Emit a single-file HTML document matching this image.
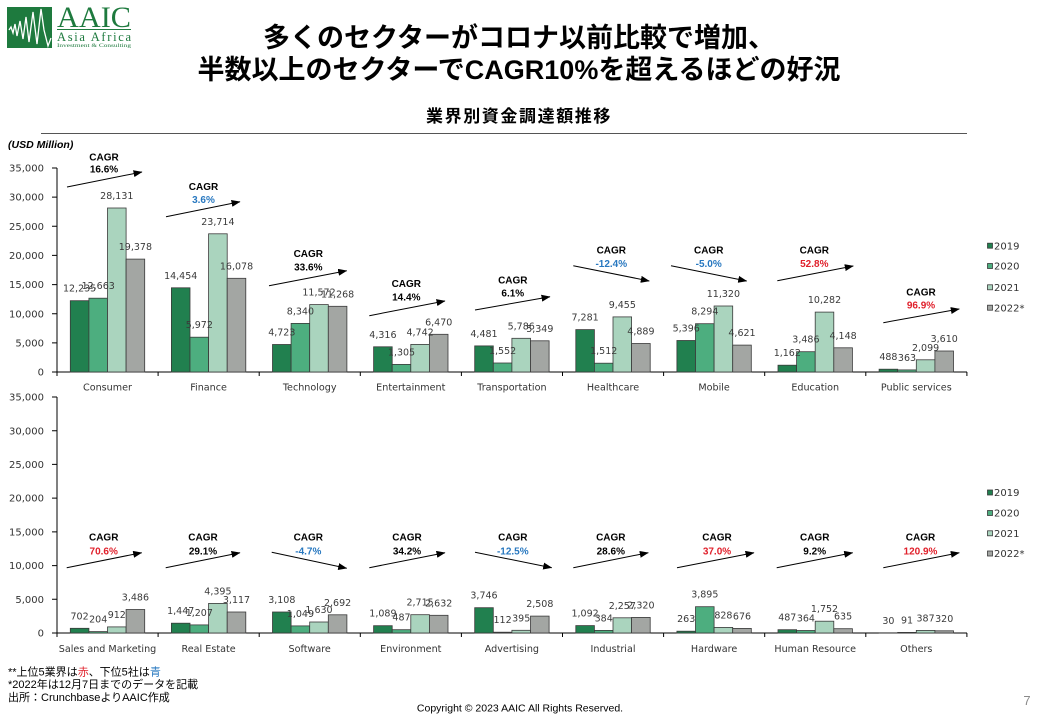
<!DOCTYPE html>
<html><head><meta charset="utf-8"><style>
html,body{margin:0;padding:0;background:#fff;}
svg{display:block;}
.tk{font-family:"DejaVu Sans",sans-serif;font-size:10px;fill:#333;text-anchor:end;}
.cat{font-family:"DejaVu Sans",sans-serif;font-size:9.6px;fill:#333;text-anchor:middle;}
.dl{font-family:"DejaVu Sans",sans-serif;font-size:9.5px;fill:#3a3a3a;text-anchor:middle;}
.lg{font-family:"DejaVu Sans",sans-serif;font-size:10px;fill:#333;}
.cg{font-family:"Liberation Sans",sans-serif;font-weight:bold;font-size:10px;text-anchor:middle;fill:#000;}
.r{fill:#e0202b;} .b{fill:#2878c0;}
.a{fill:#21804f;stroke:#3a3a3a;stroke-width:0.8;}
.c{fill:#4dae7f;stroke:#3a3a3a;stroke-width:0.8;}
.d{fill:#aad4be;stroke:#3a3a3a;stroke-width:0.8;}
.e{fill:#a3a6a3;stroke:#3a3a3a;stroke-width:0.8;}
.ar{stroke:#000;stroke-width:1;fill:none;}
.ax{stroke:#000;stroke-width:1;fill:none;}
.jp{font-family:"Liberation Sans","Noto Sans CJK JP",sans-serif;}
</style></head><body>
<svg width="1040" height="720" viewBox="0 0 1040 720" xmlns="http://www.w3.org/2000/svg">
<defs><marker id="ah" markerWidth="9" markerHeight="7" refX="8.5" refY="3.5" orient="auto" markerUnits="userSpaceOnUse"><path d="M0,0 L9,3.5 L0,7 z" fill="#000"/></marker></defs>

<!-- Logo -->
<rect x="7" y="7" width="45" height="41" fill="#1e7a3e"/>
<polyline points="9,30 11,27 13,33 15,24 17,36 20,21 23,39 26,17 29,42 33,12 37,44 41,9 44,30 48,46 51,38" fill="none" stroke="#fff" stroke-width="1.3"/>
<text x="57" y="27" font-family="Liberation Serif,serif" font-size="30" fill="#1e7a3e" textLength="74" lengthAdjust="spacingAndGlyphs">AAIC</text>
<line x1="57" y1="29.5" x2="131" y2="29.5" stroke="#1e7a3e" stroke-width="1"/>
<text x="57" y="41" font-family="Liberation Serif,serif" font-size="12.5" fill="#1e7a3e" textLength="74" lengthAdjust="spacing">Asia Africa</text>
<text x="57" y="47" font-family="Liberation Serif,serif" font-size="5.5" fill="#1e7a3e" textLength="74" lengthAdjust="spacingAndGlyphs">Investment &amp; Consulting</text>

<!-- Titles -->
<text x="519" y="47" class="jp" font-size="27" font-weight="bold" text-anchor="middle" fill="#000">多くのセクターがコロナ以前比較で増加、</text>
<text x="519" y="79" class="jp" font-size="27" font-weight="bold" text-anchor="middle" fill="#000">半数以上のセクターでCAGR10%を超えるほどの好況</text>
<text x="519" y="122" class="jp" font-size="17" font-weight="bold" text-anchor="middle" letter-spacing="1.6" fill="#000">業界別資金調達額推移</text>
<line x1="41" y1="133.5" x2="967" y2="133.5" stroke="#555" stroke-width="1"/>
<text x="8" y="148" font-family="Liberation Sans,sans-serif" font-size="10.5" font-weight="bold" font-style="italic" fill="#000">(USD Million)</text>

<!-- ===== TOP CHART axes ===== -->
<path class="ax" d="M57,168 V372 H967"/>
<path class="ax" d="M52,372H57M52,342.9H57M52,313.7H57M52,284.6H57M52,255.4H57M52,226.3H57M52,197.1H57M52,168H57"/>
<path class="ax" d="M57,372V376M158.1,372V376M259.2,372V376M360.3,372V376M461.4,372V376M562.5,372V376M663.6,372V376M764.7,372V376M865.8,372V376M966.9,372V376"/>
<text class="tk" x="44" y="375.6">0</text>
<text class="tk" x="44" y="346.5">5,000</text>
<text class="tk" x="44" y="317.3">10,000</text>
<text class="tk" x="44" y="288.2">15,000</text>
<text class="tk" x="44" y="259">20,000</text>
<text class="tk" x="44" y="229.9">25,000</text>
<text class="tk" x="44" y="200.7">30,000</text>
<text class="tk" x="44" y="171.6">35,000</text>

<!-- top bars -->
<rect class="a" x="70.3" y="300.7" width="18.6" height="71.3"/><rect class="c" x="88.9" y="298.2" width="18.6" height="73.8"/><rect class="d" x="107.5" y="208" width="18.6" height="164"/><rect class="e" x="126.1" y="259.1" width="18.6" height="112.9"/>
<rect class="a" x="171.4" y="287.8" width="18.6" height="84.2"/><rect class="c" x="190" y="337.2" width="18.6" height="34.8"/><rect class="d" x="208.6" y="233.8" width="18.6" height="138.2"/><rect class="e" x="227.2" y="278.3" width="18.6" height="93.7"/>
<rect class="a" x="272.5" y="344.5" width="18.6" height="27.5"/><rect class="c" x="291.1" y="323.4" width="18.6" height="48.6"/><rect class="d" x="309.7" y="304.6" width="18.6" height="67.4"/><rect class="e" x="328.3" y="306.3" width="18.6" height="65.7"/>
<rect class="a" x="373.6" y="346.8" width="18.6" height="25.2"/><rect class="c" x="392.2" y="364.4" width="18.6" height="7.6"/><rect class="d" x="410.8" y="344.4" width="18.6" height="27.6"/><rect class="e" x="429.4" y="334.3" width="18.6" height="37.7"/>
<rect class="a" x="474.7" y="345.9" width="18.6" height="26.1"/><rect class="c" x="493.3" y="363" width="18.6" height="9"/><rect class="d" x="511.9" y="338.3" width="18.6" height="33.7"/><rect class="e" x="530.5" y="340.8" width="18.6" height="31.2"/>
<rect class="a" x="575.8" y="329.6" width="18.6" height="42.4"/><rect class="c" x="594.4" y="363.2" width="18.6" height="8.8"/><rect class="d" x="613" y="316.9" width="18.6" height="55.1"/><rect class="e" x="631.6" y="343.5" width="18.6" height="28.5"/>
<rect class="a" x="676.9" y="340.5" width="18.6" height="31.5"/><rect class="c" x="695.5" y="323.7" width="18.6" height="48.3"/><rect class="d" x="714.1" y="306" width="18.6" height="66"/><rect class="e" x="732.7" y="345.1" width="18.6" height="26.9"/>
<rect class="a" x="778" y="365.2" width="18.6" height="6.8"/><rect class="c" x="796.6" y="351.7" width="18.6" height="20.3"/><rect class="d" x="815.2" y="312.1" width="18.6" height="59.9"/><rect class="e" x="833.8" y="347.8" width="18.6" height="24.2"/>
<rect class="a" x="879.1" y="369.2" width="18.6" height="2.8"/><rect class="c" x="897.7" y="369.9" width="18.6" height="2.1"/><rect class="d" x="916.3" y="359.8" width="18.6" height="12.2"/><rect class="e" x="934.9" y="351" width="18.6" height="21"/>

<!-- top data labels -->
<text class="dl" x="79.6" y="291.7">12,235</text><text class="dl" x="98.2" y="289.2">12,663</text><text class="dl" x="116.8" y="199">28,131</text><text class="dl" x="135.4" y="250.1">19,378</text>
<text class="dl" x="180.7" y="278.8">14,454</text><text class="dl" x="199.3" y="328.2">5,972</text><text class="dl" x="217.9" y="224.8">23,714</text><text class="dl" x="236.5" y="269.3">16,078</text>
<text class="dl" x="281.8" y="335.5">4,723</text><text class="dl" x="300.4" y="314.4">8,340</text><text class="dl" x="319" y="295.6">11,572</text><text class="dl" x="337.6" y="297.3">11,268</text>
<text class="dl" x="382.9" y="337.8">4,316</text><text class="dl" x="401.5" y="355.4">1,305</text><text class="dl" x="420.1" y="335.4">4,742</text><text class="dl" x="438.7" y="325.3">6,470</text>
<text class="dl" x="484" y="336.9">4,481</text><text class="dl" x="502.6" y="354">1,552</text><text class="dl" x="521.2" y="329.3">5,786</text><text class="dl" x="539.8" y="331.8">5,349</text>
<text class="dl" x="585.1" y="320.6">7,281</text><text class="dl" x="603.7" y="354.2">1,512</text><text class="dl" x="622.3" y="307.9">9,455</text><text class="dl" x="640.9" y="334.5">4,889</text>
<text class="dl" x="686.2" y="331.5">5,396</text><text class="dl" x="704.8" y="314.7">8,294</text><text class="dl" x="723.4" y="297">11,320</text><text class="dl" x="742" y="336.1">4,621</text>
<text class="dl" x="787.3" y="356.2">1,162</text><text class="dl" x="805.9" y="342.7">3,486</text><text class="dl" x="824.5" y="303.1">10,282</text><text class="dl" x="843.1" y="338.8">4,148</text>
<text class="dl" x="888.4" y="360.2">488</text><text class="dl" x="907" y="360.9">363</text><text class="dl" x="925.6" y="350.8">2,099</text><text class="dl" x="944.2" y="342">3,610</text>

<!-- top categories -->
<text class="cat" x="107.5" y="390.3">Consumer</text>
<text class="cat" x="208.6" y="390.3">Finance</text>
<text class="cat" x="309.7" y="390.3">Technology</text>
<text class="cat" x="410.8" y="390.3">Entertainment</text>
<text class="cat" x="511.9" y="390.3">Transportation</text>
<text class="cat" x="613" y="390.3">Healthcare</text>
<text class="cat" x="714.1" y="390.3">Mobile</text>
<text class="cat" x="815.2" y="390.3">Education</text>
<text class="cat" x="916.3" y="390.3">Public services</text>

<!-- top CAGR -->
<text class="cg" x="104" y="160.6">CAGR</text><text class="cg" x="104" y="172.6">16.6%</text>
<line class="ar" x1="67" y1="187" x2="142" y2="172" marker-end="url(#ah)"/>
<text class="cg" x="203.5" y="190.1">CAGR</text><text class="cg b" x="203.5" y="202.9">3.6%</text>
<line class="ar" x1="166" y1="216.7" x2="240" y2="201.7" marker-end="url(#ah)"/>
<text class="cg" x="308.3" y="256.9">CAGR</text><text class="cg" x="308.3" y="270.3">33.6%</text>
<line class="ar" x1="269" y1="285.7" x2="346.7" y2="270.7" marker-end="url(#ah)"/>
<text class="cg" x="406.3" y="286.9">CAGR</text><text class="cg" x="406.3" y="300.6">14.4%</text>
<line class="ar" x1="369.3" y1="315.7" x2="445" y2="301" marker-end="url(#ah)"/>
<text class="cg" x="512.8" y="283.6">CAGR</text><text class="cg" x="512.8" y="296.3">6.1%</text>
<line class="ar" x1="475" y1="310" x2="550" y2="296.7" marker-end="url(#ah)"/>
<text class="cg" x="611.3" y="253.6">CAGR</text><text class="cg b" x="611.3" y="266.9">-12.4%</text>
<line class="ar" x1="573.3" y1="265.7" x2="649.3" y2="281" marker-end="url(#ah)"/>
<text class="cg" x="708.7" y="253.6">CAGR</text><text class="cg b" x="708.7" y="266.9">-5.0%</text>
<line class="ar" x1="671" y1="265.7" x2="746.7" y2="281" marker-end="url(#ah)"/>
<text class="cg" x="814.3" y="253.6">CAGR</text><text class="cg r" x="814.3" y="266.9">52.8%</text>
<line class="ar" x1="777.3" y1="280.7" x2="853.3" y2="266" marker-end="url(#ah)"/>
<text class="cg" x="921" y="295.3">CAGR</text><text class="cg r" x="921" y="308.6">96.9%</text>
<line class="ar" x1="883.3" y1="322.7" x2="959.3" y2="309" marker-end="url(#ah)"/>

<!-- top legend -->
<rect class="a" x="987.5" y="243.2" width="5" height="5"/><text class="lg" x="994" y="249.3">2019</text>
<rect class="c" x="987.5" y="263.5" width="5" height="5"/><text class="lg" x="994" y="269.6">2020</text>
<rect class="d" x="987.5" y="284.8" width="5" height="5"/><text class="lg" x="994" y="290.9">2021</text>
<rect class="e" x="987.5" y="305.2" width="5" height="5"/><text class="lg" x="994" y="311.3">2022*</text>

<!-- ===== BOTTOM CHART axes ===== -->
<path class="ax" d="M57,397 V633 H967"/>
<path class="ax" d="M52,633H57M52,599.3H57M52,565.6H57M52,531.9H57M52,498.1H57M52,464.4H57M52,430.7H57M52,397H57"/>
<path class="ax" d="M57,633V637M158.1,633V637M259.2,633V637M360.3,633V637M461.4,633V637M562.5,633V637M663.6,633V637M764.7,633V637M865.8,633V637M966.9,633V637"/>
<text class="tk" x="44" y="636.6">0</text>
<text class="tk" x="44" y="602.9">5,000</text>
<text class="tk" x="44" y="569.2">10,000</text>
<text class="tk" x="44" y="535.5">15,000</text>
<text class="tk" x="44" y="501.7">20,000</text>
<text class="tk" x="44" y="468">25,000</text>
<text class="tk" x="44" y="434.3">30,000</text>
<text class="tk" x="44" y="400.6">35,000</text>

<!-- bottom bars -->
<rect class="a" x="70.3" y="628.3" width="18.6" height="4.7"/><rect class="c" x="88.9" y="631.6" width="18.6" height="1.4"/><rect class="d" x="107.5" y="626.9" width="18.6" height="6.1"/><rect class="e" x="126.1" y="609.5" width="18.6" height="23.5"/>
<rect class="a" x="171.4" y="623.2" width="18.6" height="9.8"/><rect class="c" x="190" y="624.9" width="18.6" height="8.1"/><rect class="d" x="208.6" y="603.4" width="18.6" height="29.6"/><rect class="e" x="227.2" y="612" width="18.6" height="21"/>
<rect class="a" x="272.5" y="612" width="18.6" height="21"/><rect class="c" x="291.1" y="625.9" width="18.6" height="7.1"/><rect class="d" x="309.7" y="622" width="18.6" height="11"/><rect class="e" x="328.3" y="614.8" width="18.6" height="18.2"/>
<rect class="a" x="373.6" y="625.7" width="18.6" height="7.3"/><rect class="c" x="392.2" y="629.7" width="18.6" height="3.3"/><rect class="d" x="410.8" y="614.7" width="18.6" height="18.3"/><rect class="e" x="429.4" y="615.3" width="18.6" height="17.7"/>
<rect class="a" x="474.7" y="607.7" width="18.6" height="25.3"/><rect class="c" x="493.3" y="632.2" width="18.6" height="0.8"/><rect class="d" x="511.9" y="630.3" width="18.6" height="2.7"/><rect class="e" x="530.5" y="616.1" width="18.6" height="16.9"/>
<rect class="a" x="575.8" y="625.6" width="18.6" height="7.4"/><rect class="c" x="594.4" y="630.4" width="18.6" height="2.6"/><rect class="d" x="613" y="617.8" width="18.6" height="15.2"/><rect class="e" x="631.6" y="617.4" width="18.6" height="15.6"/>
<rect class="a" x="676.9" y="631.2" width="18.6" height="1.8"/><rect class="c" x="695.5" y="606.7" width="18.6" height="26.3"/><rect class="d" x="714.1" y="627.4" width="18.6" height="5.6"/><rect class="e" x="732.7" y="628.4" width="18.6" height="4.6"/>
<rect class="a" x="778" y="629.7" width="18.6" height="3.3"/><rect class="c" x="796.6" y="630.5" width="18.6" height="2.5"/><rect class="d" x="815.2" y="621.2" width="18.6" height="11.8"/><rect class="e" x="833.8" y="628.7" width="18.6" height="4.3"/>
<rect class="a" x="879.1" y="632.8" width="18.6" height="0.2"/><rect class="c" x="897.7" y="632.4" width="18.6" height="0.6"/><rect class="d" x="916.3" y="630.4" width="18.6" height="2.6"/><rect class="e" x="934.9" y="630.8" width="18.6" height="2.2"/>

<!-- bottom data labels -->
<text class="dl" x="79.6" y="619.3">702</text><text class="dl" x="98.2" y="622.6">204</text><text class="dl" x="116.8" y="617.9">912</text><text class="dl" x="135.4" y="600.5">3,486</text>
<text class="dl" x="180.7" y="614.2">1,447</text><text class="dl" x="199.3" y="615.9">1,207</text><text class="dl" x="217.9" y="594.4">4,395</text><text class="dl" x="236.5" y="603">3,117</text>
<text class="dl" x="281.8" y="603">3,108</text><text class="dl" x="300.4" y="616.9">1,049</text><text class="dl" x="319" y="613">1,630</text><text class="dl" x="337.6" y="605.8">2,692</text>
<text class="dl" x="382.9" y="616.7">1,089</text><text class="dl" x="401.5" y="620.7">487</text><text class="dl" x="420.1" y="605.7">2,715</text><text class="dl" x="438.7" y="606.3">2,632</text>
<text class="dl" x="484" y="598.7">3,746</text><text class="dl" x="502.6" y="623.2">112</text><text class="dl" x="521.2" y="621.3">395</text><text class="dl" x="539.8" y="607.1">2,508</text>
<text class="dl" x="585.1" y="616.6">1,092</text><text class="dl" x="603.7" y="621.4">384</text><text class="dl" x="622.3" y="608.8">2,257</text><text class="dl" x="640.9" y="608.4">2,320</text>
<text class="dl" x="686.2" y="622.2">263</text><text class="dl" x="704.8" y="597.7">3,895</text><text class="dl" x="723.4" y="618.4">828</text><text class="dl" x="742" y="619.4">676</text>
<text class="dl" x="787.3" y="620.7">487</text><text class="dl" x="805.9" y="621.5">364</text><text class="dl" x="824.5" y="612.2">1,752</text><text class="dl" x="843.1" y="619.7">635</text>
<text class="dl" x="888.4" y="623.8">30</text><text class="dl" x="907" y="623.4">91</text><text class="dl" x="925.6" y="621.4">387</text><text class="dl" x="944.2" y="621.8">320</text>

<!-- bottom categories -->
<text class="cat" x="107.5" y="652">Sales and Marketing</text>
<text class="cat" x="208.6" y="652">Real Estate</text>
<text class="cat" x="309.7" y="652">Software</text>
<text class="cat" x="410.8" y="652">Environment</text>
<text class="cat" x="511.9" y="652">Advertising</text>
<text class="cat" x="613" y="652">Industrial</text>
<text class="cat" x="714.1" y="652">Hardware</text>
<text class="cat" x="815.2" y="652">Human Resource</text>
<text class="cat" x="916.3" y="652">Others</text>

<!-- bottom CAGR -->
<text class="cg" x="103.7" y="540.3">CAGR</text><text class="cg r" x="103.7" y="554.3">70.6%</text>
<line class="ar" x1="66.7" y1="567.7" x2="141.7" y2="552.7" marker-end="url(#ah)"/>
<text class="cg" x="203" y="540.3">CAGR</text><text class="cg" x="203" y="554.3">29.1%</text>
<line class="ar" x1="165.7" y1="567.7" x2="240" y2="552.7" marker-end="url(#ah)"/>
<text class="cg" x="308.3" y="540.3">CAGR</text><text class="cg b" x="308.3" y="554.3">-4.7%</text>
<line class="ar" x1="271.7" y1="552.3" x2="346.7" y2="568.3" marker-end="url(#ah)"/>
<text class="cg" x="407" y="540.3">CAGR</text><text class="cg" x="407" y="554.3">34.2%</text>
<line class="ar" x1="369.3" y1="567.7" x2="445" y2="552.7" marker-end="url(#ah)"/>
<text class="cg" x="512.8" y="540.3">CAGR</text><text class="cg b" x="512.8" y="554.3">-12.5%</text>
<line class="ar" x1="475" y1="552.3" x2="551.7" y2="567.7" marker-end="url(#ah)"/>
<text class="cg" x="610.8" y="540.3">CAGR</text><text class="cg" x="610.8" y="554.3">28.6%</text>
<line class="ar" x1="573.3" y1="567.7" x2="648.3" y2="552.7" marker-end="url(#ah)"/>
<text class="cg" x="717" y="540.3">CAGR</text><text class="cg r" x="717" y="554.3">37.0%</text>
<line class="ar" x1="677" y1="567.7" x2="754" y2="552.7" marker-end="url(#ah)"/>
<text class="cg" x="814.7" y="540.3">CAGR</text><text class="cg" x="814.7" y="554.3">9.2%</text>
<line class="ar" x1="776.7" y1="567.7" x2="852.7" y2="552.7" marker-end="url(#ah)"/>
<text class="cg" x="920.5" y="540.3">CAGR</text><text class="cg r" x="920.5" y="554.3">120.9%</text>
<line class="ar" x1="883.3" y1="567.7" x2="959.3" y2="552.7" marker-end="url(#ah)"/>

<!-- bottom legend -->
<rect class="a" x="987.5" y="490" width="5" height="5"/><text class="lg" x="994" y="496.1">2019</text>
<rect class="c" x="987.5" y="510.5" width="5" height="5"/><text class="lg" x="994" y="516.6">2020</text>
<rect class="d" x="987.5" y="530.8" width="5" height="5"/><text class="lg" x="994" y="536.9">2021</text>
<rect class="e" x="987.5" y="551" width="5" height="5"/><text class="lg" x="994" y="557.1">2022*</text>

<!-- footnotes -->
<text class="jp" x="8" y="675.5" font-size="11" fill="#000">**上位5業界は<tspan fill="#e0202b">赤</tspan>、下位5社は<tspan fill="#2878c0">青</tspan></text>
<text class="jp" x="8" y="688.2" font-size="11" fill="#000">*2022年は12月7日までのデータを記載</text>
<text class="jp" x="8" y="700.8" font-size="11" fill="#000">出所：CrunchbaseよりAAIC作成</text>

<text x="520" y="711.5" font-family="Liberation Sans,sans-serif" font-size="10.5" text-anchor="middle" fill="#000">Copyright © 2023 AAIC All Rights Reserved.</text>
<text x="1027" y="705" font-family="Liberation Sans,sans-serif" font-size="13" text-anchor="middle" fill="#8a8a8a">7</text>
</svg>
</body></html>
